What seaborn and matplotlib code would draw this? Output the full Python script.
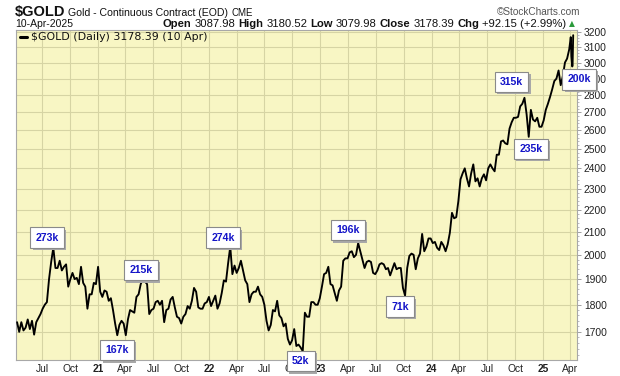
import numpy as np
import pandas as pd
import matplotlib
matplotlib.use("Agg")
import matplotlib.pyplot as plt
import matplotlib.dates as mdates
import matplotlib.ticker as mticker
from matplotlib import font_manager as fm
from matplotlib import patheffects as pe
import seaborn as sns

# ---------------- data (weekly Friday closes) ----------------
week_first = "2020-04-10"
week_last = "2025-03-28"
gold_2020 = [1735, 1700, 1735, 1705, 1715, 1745, 1710, 1740, 1690, 1735, 1750, 1765,
             1785, 1800, 1810, 1900, 1970, 2030, 1945, 1945, 1975, 1935, 1950, 1960,
             1870, 1900, 1925, 1900, 1905, 1880, 1950, 1885, 1870, 1785, 1840, 1840,
             1885, 1880]
gold_2021 = [1950, 1850, 1830, 1855, 1850, 1815, 1825, 1780, 1730, 1688, 1725, 1740,
             1730, 1688, 1745, 1780, 1775, 1770, 1830, 1840, 1880, 1900, 1890, 1880,
             1765, 1780, 1785, 1810, 1815, 1800, 1815, 1735, 1780, 1785, 1820, 1830,
             1790, 1755, 1750, 1730, 1755, 1765, 1795, 1785, 1815, 1865, 1850, 1790,
             1785, 1785, 1805, 1810, 1830]
gold_2022 = [1795, 1815, 1835, 1785, 1805, 1845, 1895, 1890, 1965, 2035, 1920, 1955,
             1925, 1945, 1975, 1935, 1895, 1880, 1810, 1840, 1850, 1850, 1870, 1840,
             1830, 1800, 1740, 1705, 1725, 1780, 1775, 1815, 1760, 1750, 1720, 1730,
             1675, 1655, 1670, 1710, 1650, 1655, 1645, 1632, 1770, 1755, 1755, 1810,
             1810, 1800, 1800, 1825]
gold_2023 = [1870, 1920, 1925, 1950, 1880, 1875, 1845, 1815, 1855, 1870, 1975, 1985,
             1985, 2010, 2015, 1990, 2000, 2050, 2015, 1980, 1945, 1970, 1975, 1970,
             1925, 1920, 1935, 1960, 1965, 1960, 1940, 1945, 1915, 1940, 1965, 1940,
             1945, 1945, 1865, 1835, 1945, 1995, 2005, 2000, 1940, 1985, 2005, 2090,
             2015, 2035, 2070, 2070]
gold_2024 = [2050, 2055, 2030, 2020, 2055, 2040, 2015, 2045, 2095, 2185, 2160, 2165,
             2240, 2345, 2375, 2400, 2350, 2310, 2375, 2420, 2335, 2350, 2310, 2350,
             2370, 2340, 2400, 2420, 2400, 2385, 2470, 2470, 2540, 2545, 2530, 2525,
             2610, 2645, 2670, 2670, 2675, 2735, 2750, 2785, 2690, 2565, 2715, 2660,
             2650, 2670, 2620, 2620]
gold_2025 = [2655, 2715, 2750, 2790, 2835, 2885, 2900, 2950, 2860, 2915, 3000, 3025,
             3085]
tail_dates = ["2025-04-02", "2025-04-03", "2025-04-04", "2025-04-07", "2025-04-08",
              "2025-04-09", "2025-04-10"]
tail_prices = [3165, 3120, 3040, 2975, 2985, 3080, 3178]

label_texts = ["273k", "167k", "215k", "274k", "52k", "196k", "71k", "315k", "235k", "200k"]
label_dates = ["2020-08-07", "2021-03-05", "2021-05-28", "2022-03-11", "2022-11-04",
               "2023-05-05", "2023-10-06", "2024-11-01", "2024-11-15", "2025-04-07"]

y_ticks = [1700, 1800, 1900, 2000, 2100, 2200, 2300, 2400, 2500, 2600, 2700, 2800,
           2900, 3000, 3100, 3200]

# ---------------- layout / style ----------------
label_offsets = [(-6, 10), (0, -15), (-2, 9), (-7, 9), (-2, -10), (-10, 13), (-5, -11),
                 (-13, 16), (2, -12), (7, -13)]
W, H = 620, 376
BG = "#f8f6c4"
GRID = "#d6d4a4"
names = {f.name for f in fm.fontManager.ttflist}
if "Liberation Sans Narrow" in names:
    NARROW, NS = "Liberation Sans Narrow", 1.0
else:
    NARROW, NS = "Liberation Sans", 0.84
SANS = "Liberation Sans"

prices = gold_2020 + gold_2021 + gold_2022 + gold_2023 + gold_2024 + gold_2025 + tail_prices
dates = list(pd.date_range(week_first, week_last, freq="W-FRI")) + [pd.Timestamp(d) for d in tail_dates]
assert len(dates) == len(prices)
df = pd.DataFrame({"date": dates, "price": prices})

sns.set_style("white")
plt.rcParams["font.family"] = [SANS, "DejaVu Sans"]

fig = plt.figure(figsize=(W / 100, H / 100), dpi=100)
fig.patch.set_facecolor("white")
ax = fig.add_axes([16 / W, 1 - 360 / H, 561 / W, 330 / H])
ax.set_facecolor(BG)

sns.lineplot(data=df, x="date", y="price", ax=ax, color="black", linewidth=1.35, zorder=3)

ax.set_yscale("log")
ax.set_ylim(1602, 3213)
ax.set_xlim(pd.Timestamp("2020-04-06 12:00"), pd.Timestamp("2025-04-22 12:00"))
ax.set_xlabel("")
ax.set_ylabel("")

ax.yaxis.set_major_locator(mticker.FixedLocator(y_ticks))
ax.yaxis.set_major_formatter(mticker.FuncFormatter(lambda v, _: f"{v:.0f}"))
minor = [v for v in range(1620, 3220, 20) if v % 100 != 0]
ax.yaxis.set_minor_locator(mticker.FixedLocator(minor))
ax.yaxis.set_minor_formatter(mticker.NullFormatter())
ax.yaxis.tick_right()
ax.tick_params(axis="y", which="major", length=3, width=0.6, color="#909090",
               pad=2, labelsize=7.4, labelcolor="#222222")
ax.tick_params(axis="y", which="minor", length=1.6, width=0.5, color="#a0a0a0")

xt = pd.date_range("2020-07-01", "2025-04-01", freq="QS")
xl = [f"{d.year % 100:02d}" if d.month == 1 else d.strftime("%b") for d in xt]
ax.set_xticks(xt)
ax.set_xticklabels(xl)
ax.tick_params(axis="x", length=0, pad=3, labelsize=7.4, labelcolor="#222222")
for lab, d in zip(ax.get_xticklabels(), xt):
    if d.month == 1:
        lab.set_fontweight("bold")

ax.grid(True, which="major", color=GRID, linewidth=0.8)
ax.set_axisbelow(True)
for s in ax.spines.values():
    s.set_color("#a8a8a8")
    s.set_linewidth(0.8)

# annotation boxes (with drop shadow on the box)
ser = df.set_index("date")["price"]
for txt, d, (dx, dy) in zip(label_texts, label_dates, label_offsets):
    ts = pd.Timestamp(d)
    xy = (mdates.date2num(ts), ser.loc[ts])
    ann = ax.annotate(txt, xy=xy, xytext=(dx, dy), textcoords="offset pixels",
                      ha="center", va="center", fontsize=7.6, fontweight="bold",
                      color="#1414c8", family=SANS,
                      bbox=dict(boxstyle="square,pad=0.5", fc="white", ec="#8a8a8a", lw=0.8),
                      zorder=9, annotation_clip=False)
    ann.get_bbox_patch().set_path_effects([
        pe.SimplePatchShadow(offset=(1.6, -1.6), shadow_rgbFace="#a8a8a8", alpha=1.0),
        pe.Normal()])

# legend line inside plot
fig.add_artist(plt.Line2D([20 / W, 27 / W], [1 - 37 / H, 1 - 37 / H], color="black",
                          linewidth=2.2, transform=fig.transFigure))
fig.text(31 / W, 1 - 37 / H, "$GOLD (Daily) 3178.39 (10 Apr)", family="DejaVu Sans",
         fontsize=7.9, va="center", ha="left", color="#111111")

# header
r = fig.canvas.get_renderer()


def row(x, y, parts, align="left", gap=3):
    made = []
    for s, kw in parts:
        t = fig.text(0, 1 - y / H, s, va="baseline", ha="left", **kw)
        made.append(t)
    widths = [t.get_window_extent(r).width for t in made]
    total = sum(widths) + gap * (len(made) - 1)
    xs = x if align == "left" else x - total
    for t, w in zip(made, widths):
        t.set_x(xs / W)
        xs += w + gap


row(15, 16, [("$GOLD", dict(family=NARROW, fontsize=12.5 * NS, fontweight="bold", color="#111111")),
             ("Gold - Continuous Contract (EOD)", dict(family=NARROW, fontsize=9.0 * NS, color="#111111")),
             ("CME", dict(family=SANS, fontsize=7.0, color="#111111"))])
fig.text(580 / W, 1 - 15 / H, "\u00a9StockCharts.com", family=SANS, fontsize=7.2,
         color="#555555", ha="right", va="baseline")
fig.text(15 / W, 1 - 27 / H, "10-Apr-2025", family=NARROW, fontsize=8.9 * NS,
         color="#111111", ha="left", va="baseline")
B = dict(family=NARROW, fontsize=9.6 * NS, fontweight="bold", color="#111111")
Rg = dict(family=NARROW, fontsize=9.6 * NS, color="#111111")
row(566, 27, [("Open", B), ("3087.98", Rg), ("High", B), ("3180.52", Rg), ("Low", B),
              ("3079.98", Rg), ("Close", B), ("3178.39", Rg), ("Chg", B),
              ("+92.15 (+2.99%)", Rg)], align="right")
fig.text(569 / W, 1 - 26 / H, "\u25b2", family="DejaVu Sans", fontsize=5.5,
         color="#2a9a3a", ha="left", va="baseline")

fig.savefig("out.png", dpi=100, facecolor="white")
